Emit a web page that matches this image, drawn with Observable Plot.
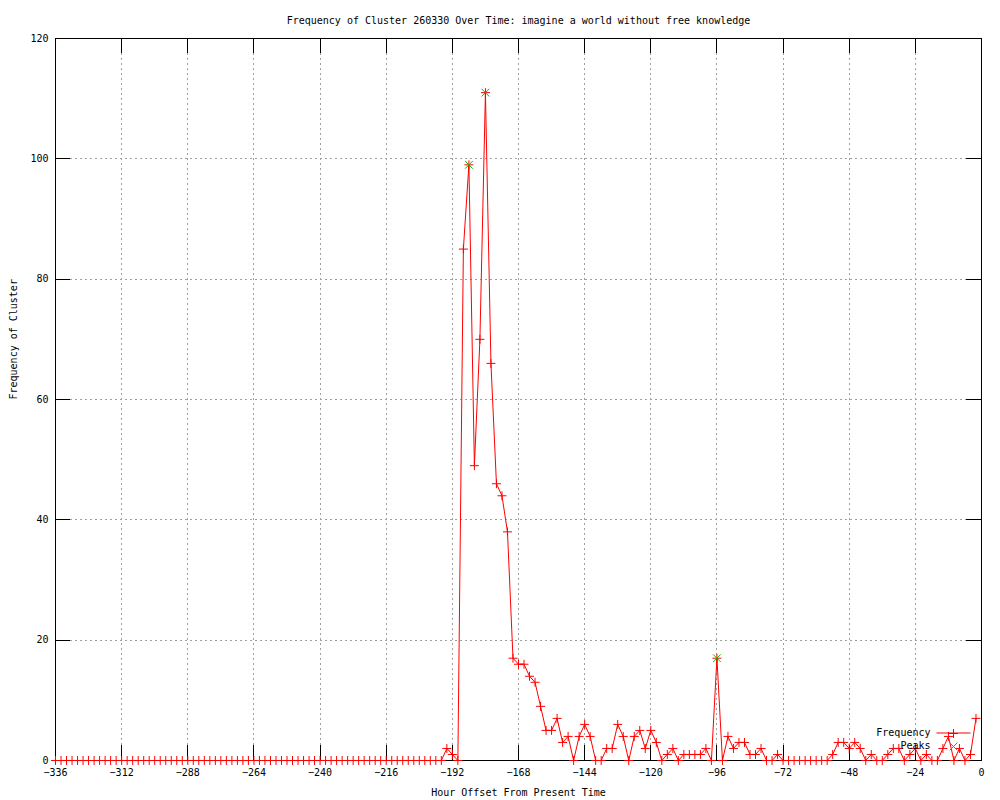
<!DOCTYPE html>
<html>
<head>
<meta charset="utf-8">
<script src="https://cdn.jsdelivr.net/npm/d3@7"></script>
<script src="https://cdn.jsdelivr.net/npm/@observablehq/plot@0.6"></script>
<style>
  html, body { margin: 0; padding: 0; background: #fff; }
</style>
</head>
<body>
<div id="chart"></div>
<script>
// ---- data ----
const titleText = "Frequency of Cluster 260330 Over Time: imagine a world without free knowledge";
const xLabel = "Hour Offset From Present Time";
const yLabel = "Frequency of Cluster";

// hour offsets: every 2 hours from -336 to -2
const hours = d3.range(-336, 0, 2);
const frequency = [
  0,0,0,0,0,0,0,0,0,0,
  0,0,0,0,0,0,0,0,0,0,
  0,0,0,0,0,0,0,0,0,0,
  0,0,0,0,0,0,0,0,0,0,
  0,0,0,0,0,0,0,0,0,0,
  0,0,0,0,0,0,0,0,0,0,
  0,0,0,0,0,0,0,0,0,0,
  0,
  2,1,0,85,99,49,70,111,66,46,
  44,38,17,16,16,14,13,9,5,5,
  7,3,4,0,4,6,4,0,0,2,
  2,6,4,0,4,5,2,5,3,0,
  1,2,0,1,1,1,1,2,0,17,
  0,4,2,3,3,1,1,2,0,0,
  1,0,0,0,0,0,0,0,0,0,
  1,3,3,2,3,2,0,1,0,0,
  1,2,2,0,1,2,0,1,0,0,
  2,4,0,2,0,1,7
];
const peakHours = [-186, -180, -96];
const peakValues = [99, 111, 17];

const xTicks = [-336, -312, -288, -264, -240, -216, -192, -168, -144, -120, -96, -72, -48, -24, 0];
const yTicks = [0, 20, 40, 60, 80, 100, 120];
const legendLabels = ["Frequency", "Peaks"];

// ---- tables ----
const series = hours.map((h, i) => ({hour: h, freq: frequency[i]}));
const peaks = peakHours.map((h, i) => ({hour: h, freq: peakValues[i]}));

const W = 1000, H = 800;
const mL = 55, mR = 19, mT = 38, mB = 40;
const innerW = W - mL - mR, innerH = H - mT - mB;
const tick = 15;
const red = "#ff0000", green = "#00c000", grid = "#a0a0a0";

const chart = Plot.plot({
  width: W, height: H,
  marginLeft: mL, marginRight: mR, marginTop: mT, marginBottom: mB,
  x: {domain: [-336, 0]},
  y: {domain: [0, 120]},
  style: {fontFamily: "'DejaVu Sans Mono', monospace", fontSize: "10px", background: "#fff", color: "#000"},
  marks: [
    Plot.gridX({ticks: xTicks, stroke: grid, strokeOpacity: 1, strokeDasharray: "2,3", shapeRendering: "crispEdges"}),
    Plot.gridY({ticks: yTicks, stroke: grid, strokeOpacity: 1, strokeDasharray: "2,3", shapeRendering: "crispEdges"}),
    Plot.tickX(xTicks, {x: d => d, insetTop: innerH - tick, stroke: "#000", shapeRendering: "crispEdges"}),
    Plot.tickX(xTicks, {x: d => d, insetBottom: innerH - tick, stroke: "#000", shapeRendering: "crispEdges"}),
    Plot.tickY(yTicks, {y: d => d, insetRight: innerW - tick, stroke: "#000", shapeRendering: "crispEdges"}),
    Plot.tickY(yTicks, {y: d => d, insetLeft: innerW - tick, stroke: "#000", shapeRendering: "crispEdges"}),
    Plot.line(series, {x: "hour", y: "freq", stroke: red, strokeWidth: 1}),
    Plot.frame({stroke: "#000", shapeRendering: "crispEdges"}),
    Plot.dot(series, {x: "hour", y: "freq", symbol: "plus", r: 3, stroke: red, fill: "none", strokeWidth: 1}),
    Plot.dot(peaks, {x: "hour", y: "freq", symbol: "times", r: 3.6, stroke: green, fill: "none", strokeWidth: 1}),
    Plot.axisX({ticks: xTicks, tickSize: 0, tickPadding: 8, label: null}),
    Plot.axisY({ticks: yTicks, tickSize: 0, tickPadding: 7, label: null}),
    Plot.text([titleText], {text: d => d, frameAnchor: "top", dy: -22}),
    Plot.text([xLabel], {text: d => d, frameAnchor: "bottom", dy: 35}),
    Plot.text([yLabel], {text: d => d, frameAnchor: "left", dx: -42, rotate: -90}),
    // legend
    Plot.text([legendLabels[0]], {text: d => d, frameAnchor: "bottom-right", dx: -51, dy: -25, textAnchor: "end"}),
    Plot.frame({stroke: null, fill: red, insetLeft: innerW - 45, insetRight: 11, insetTop: innerH - 28, insetBottom: 27}),
    Plot.dot([0], {frameAnchor: "bottom-right", dx: -28, dy: -27, symbol: "plus", r: 3, stroke: red, fill: "none", strokeWidth: 1}),
    Plot.text([legendLabels[1]], {text: d => d, frameAnchor: "bottom-right", dx: -51, dy: -12, textAnchor: "end"}),
    Plot.dot([0], {frameAnchor: "bottom-right", dx: -28, dy: -14, symbol: "times", r: 3.6, stroke: green, fill: "none", strokeWidth: 1})
  ]
});
document.getElementById("chart").appendChild(chart);
</script>
</body>
</html>
